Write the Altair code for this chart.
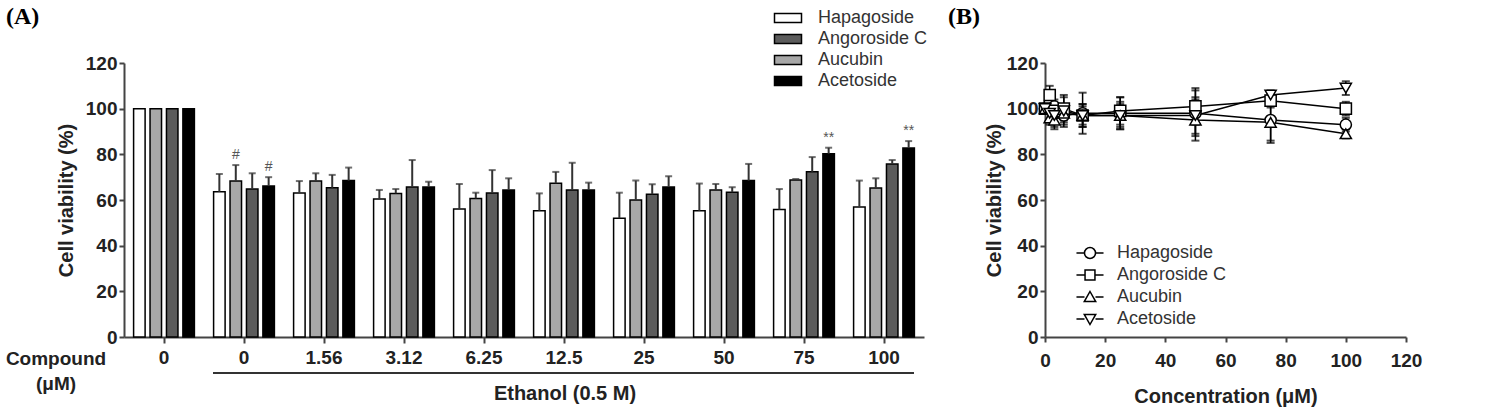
import altair as alt
import pandas as pd

FONT = "Liberation Sans, Arial, Helvetica, sans-serif"

# ---------------- Panel A data ----------------
groups = ["ctrl", "0", "1.56", "3.12", "6.25", "12.5", "25", "50", "75", "100"]
series = ["Hapagoside", "Angoroside C", "Aucubin", "Acetoside"]          # legend order
bar_order = ["Hapagoside", "Aucubin", "Angoroside C", "Acetoside"]       # order of bars in a group
fills = ["#ffffff", "#5c5c5c", "#a8a8a8", "#000000"]

hapa_mean = [100, 63.6, 63.1, 60.4, 56.1, 55.3, 52.0, 55.3, 55.8, 56.9]
hapa_sd = [0, 7.8, 5.2, 4.0, 10.9, 7.6, 11.2, 11.9, 9.0, 11.6]
aucu_mean = [100, 68.3, 68.3, 62.9, 60.7, 67.3, 60.0, 64.4, 68.8, 65.3]
aucu_sd = [0, 7.0, 3.4, 1.9, 2.5, 5.0, 8.5, 2.6, 0.4, 4.2]
ango_mean = [100, 64.8, 65.4, 65.7, 63.1, 64.4, 62.5, 63.4, 72.4, 75.8]
ango_sd = [0, 6.9, 5.6, 11.8, 10.0, 11.9, 4.4, 2.2, 6.4, 1.7]
acet_mean = [100, 66.1, 68.5, 65.7, 64.4, 64.4, 65.7, 68.5, 80.3, 82.8]
acet_sd = [0, 3.9, 5.7, 2.3, 5.1, 3.2, 4.7, 7.3, 2.6, 3.0]

sig_groups = ["0", "0", "75", "100"]
sig_series = ["Aucubin", "Acetoside", "Acetoside", "Acetoside"]
sig_marks = ["#", "#", "**", "**"]

# ---------------- Panel B data ----------------
conc = [0, 1.56, 3.12, 6.25, 12.5, 25, 50, 75, 100]
b_hapa = [100, 102.5, 101, 97, 98, 98, 98, 95, 93]
b_hapa_sd = [2, 3, 3, 4, 9, 7, 10, 9, 3]
b_ango = [100, 106, 99, 100, 97, 99, 101, 103.5, 100]
b_ango_sd = [2, 4, 3, 5, 5, 6, 8, 3, 3]
b_aucu = [100, 96, 95, 98, 97, 97, 95, 94, 89]
b_aucu_sd = [2, 3, 4, 4, 5, 6, 9, 9, 2]
b_acet = [100, 98, 97, 99, 97, 97, 97, 106, 109]
b_acet_sd = [2, 4, 5, 7, 4, 5, 8, 2, 3]

# ---------------- tables ----------------
rowsA = []
for name, m, s in [("Hapagoside", hapa_mean, hapa_sd), ("Aucubin", aucu_mean, aucu_sd),
                   ("Angoroside C", ango_mean, ango_sd), ("Acetoside", acet_mean, acet_sd)]:
    for g, v, e in zip(groups, m, s):
        rowsA.append({"group": g, "series": name, "value": v, "sd": e, "top": v + e})
dfA = pd.DataFrame(rowsA)
dfA_err = dfA[dfA["sd"] > 0]
dfSig = pd.DataFrame({"group": sig_groups, "series": sig_series, "mark": sig_marks})
dfSig = dfSig.merge(dfA[["group", "series", "top"]], on=["group", "series"])

rowsB = []
for name, m, s in [("Hapagoside", b_hapa, b_hapa_sd), ("Angoroside C", b_ango, b_ango_sd),
                   ("Aucubin", b_aucu, b_aucu_sd), ("Acetoside", b_acet, b_acet_sd)]:
    for c, v, e in zip(conc, m, s):
        rowsB.append({"conc": c, "series": name, "value": v, "lo": v - e, "hi": v + e})
dfB = pd.DataFrame(rowsB)

one = pd.DataFrame({"k": [0]})

# ---------------- Panel A ----------------
xA = alt.X("group:N", sort=groups,
           scale=alt.Scale(paddingInner=0.24, paddingOuter=0.12),
           axis=alt.Axis(title=None, labelAngle=0, labelExpr="datum.value == 'ctrl' ? '0' : datum.value",
                         labelPadding=5, tickSize=6))
xoA = alt.XOffset("series:N", sort=bar_order, scale=alt.Scale(paddingInner=0.3, paddingOuter=0))
yA = alt.Y("value:Q", scale=alt.Scale(domain=[0, 120], nice=False),
           axis=alt.Axis(title="Cell viability (%)", values=[0, 20, 40, 60, 80, 100, 120],
                         titlePadding=9))

rect_path = "M-1.35,-0.45H1.35V0.45H-1.35Z"

bars = alt.Chart(dfA).mark_bar(stroke="black", strokeWidth=1.5).encode(
    x=xA, xOffset=xoA, y=yA,
    color=alt.Color("series:N", scale=alt.Scale(domain=series, range=fills),
                    legend=alt.Legend(title=None, orient="none", legendX=653, legendY=-56,
                                      symbolType=rect_path, symbolSize=400,
                                      symbolStrokeColor="black", symbolStrokeWidth=1.5,
                                      labelFontSize=18, labelOffset=19, rowPadding=1,
                                      padding=0, labelColor="#333"))
)
err_rule = alt.Chart(dfA_err).mark_rule(color="#333", strokeWidth=2).encode(
    x=xA, xOffset=xoA, y=alt.Y("value:Q"), y2="top:Q")
err_cap = alt.Chart(dfA_err).mark_tick(color="#333", thickness=2, size=7, orient="horizontal").encode(
    x=xA, xOffset=xoA, y=alt.Y("top:Q"))
sig = alt.Chart(dfSig).mark_text(dy=-10, fontSize=14, color="#555", font=FONT).encode(
    x=xA, xOffset=xoA, y=alt.Y("top:Q"), text="mark:N")

txtA = alt.Chart(one).mark_text(font="Liberation Serif, Times New Roman, serif", fontSize=24,
                                fontWeight="bold", align="left", baseline="middle", color="black").encode(
    x=alt.value(-118), y=alt.value(-46), text=alt.value("(A)"))
compound = alt.Chart(one).mark_text(font=FONT, fontSize=19, fontWeight="bold", align="center",
                                    baseline="middle", color="#222").encode(
    x=alt.value(-68), y=alt.value(296), text=alt.value("Compound"))
um = alt.Chart(one).mark_text(font=FONT, fontSize=19, fontWeight="bold", align="center",
                              baseline="middle", color="#222").encode(
    x=alt.value(-68), y=alt.value(321), text=alt.value("(μM)"))
eth_line = alt.Chart(one).mark_rule(color="#333", strokeWidth=2).encode(
    x=alt.value(89), x2=alt.value(790), y=alt.value(310))
eth_txt = alt.Chart(one).mark_text(font=FONT, fontSize=20, fontWeight="bold", align="center",
                                   baseline="middle", color="#222").encode(
    x=alt.value(441), y=alt.value(331), text=alt.value("Ethanol (0.5 M)"))

panelA = alt.layer(bars, err_rule, err_cap, sig, txtA, compound, um, eth_line, eth_txt).properties(
    width=800, height=274)

# ---------------- Panel B ----------------
xB = alt.X("conc:Q", scale=alt.Scale(domain=[0, 120], nice=False),
           axis=alt.Axis(title="Concentration (μM)", values=[0, 20, 40, 60, 80, 100, 120],
                         titlePadding=16, labelPadding=9, labelFlush=False))
yB = alt.Y("value:Q", scale=alt.Scale(domain=[0, 120], nice=False),
           axis=alt.Axis(title="Cell viability (%)", values=[0, 20, 40, 60, 80, 100, 120],
                         titlePadding=2))

circ = "M-1.23,0H-0.5M0.5,0H1.23M-0.5,0A0.5,0.5,0,1,0,0.5,0A0.5,0.5,0,1,0,-0.5,0Z"
sq = "M-1.23,0H-0.45M0.45,0H1.23M-0.45,-0.45H0.45V0.45H-0.45Z"
tup = "M-1.23,0H-0.5M0.5,0H1.23M0,-0.5L0.52,0.42L-0.52,0.42Z"
tdn = "M-1.23,0H-0.5M0.5,0H1.23M0,0.5L0.52,-0.42L-0.52,-0.42Z"

errB = alt.Chart(dfB).mark_rule(color="black", strokeWidth=1.5).encode(
    x=xB, y=alt.Y("lo:Q", scale=alt.Scale(domain=[0, 120], nice=False)), y2="hi:Q")
capLo = alt.Chart(dfB).mark_tick(color="black", thickness=2, size=8, orient="horizontal").encode(
    x=xB, y=alt.Y("lo:Q"))
capHi = alt.Chart(dfB).mark_tick(color="black", thickness=2, size=8, orient="horizontal").encode(
    x=xB, y=alt.Y("hi:Q"))
linesB = alt.Chart(dfB).mark_line(color="black", strokeWidth=1.5).encode(
    x=xB, y=yB, detail="series:N")
pointsB = alt.Chart(dfB).mark_point(filled=True, fill="white", stroke="black", strokeWidth=1.5,
                                    size=125, opacity=1).encode(
    x=xB, y=yB,
    shape=alt.Shape("series:N", scale=alt.Scale(domain=series,
                                                range=["circle", "square", "triangle-up", "triangle-down"]),
                    legend=None)
)
# legend-only layer (no rows drawn): line-with-marker symbols
legendB = alt.Chart(dfB).transform_filter("false").mark_point(
    filled=False, color="black", strokeWidth=1.5, size=484, opacity=1).encode(
    x=xB, y=yB,
    shape=alt.Shape("series:N", scale=alt.Scale(domain=series, range=[circ, sq, tup, tdn]),
                    legend=alt.Legend(title=None, orient="none", legendX=33, legendY=178,
                                      symbolSize=484, labelFontSize=18, labelOffset=15, rowPadding=1,
                                      padding=0, labelColor="#333", symbolStrokeWidth=1.5,
                                      symbolStrokeColor="black", symbolOpacity=1))
)
txtB = alt.Chart(one).mark_text(font="Liberation Serif, Times New Roman, serif", fontSize=24,
                                fontWeight="bold", align="left", baseline="middle", color="black").encode(
    x=alt.value(-97), y=alt.value(-46), text=alt.value("(B)"))

panelB = alt.layer(errB, capLo, capHi, linesB, pointsB, legendB, txtB).resolve_scale(
    shape="independent").properties(width=361, height=274)

chart = alt.hconcat(panelA, panelB, spacing=24).properties(
    padding={"left": 5, "top": 5, "right": 5, "bottom": 5}
).configure_view(stroke=None).configure_axis(
    labelFont=FONT, titleFont=FONT, labelFontSize=19, titleFontSize=20,
    labelFontWeight="bold", titleFontWeight="bold", labelColor="#222", titleColor="#222",
    domainColor="#444", tickColor="#444", domainWidth=2, tickWidth=2, tickSize=5, grid=False
).configure_legend(labelFont=FONT)

chart.save("out.html", embed_options={"renderer": "svg", "actions": False})
